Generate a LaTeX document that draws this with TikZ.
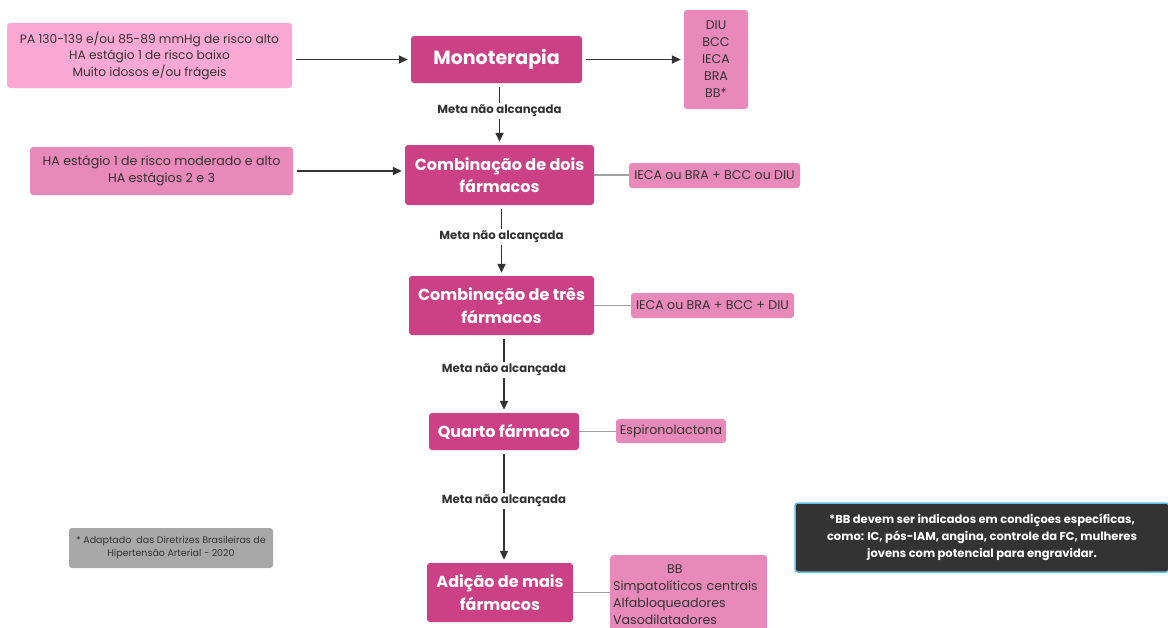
\documentclass[tikz,border=0pt]{standalone}
\usepackage{fontspec}
\setmainfont{Poppins}
\usetikzlibrary{arrows.meta}

\definecolor{mainpink}{HTML}{CC4185}
\definecolor{lightpink}{HTML}{FCA8D4}
\definecolor{midpink}{HTML}{E989B9}
\definecolor{arrowgray}{HTML}{333333}
\definecolor{linkgray}{HTML}{A0A0A0}
\definecolor{notegray}{HTML}{A8A8A8}
\definecolor{notedark}{HTML}{333333}
\definecolor{noteblue}{HTML}{5DC1EE}

\newcommand*{\picw}{1168}
\newcommand*{\pich}{627}

\begin{document}
\begin{tikzpicture}
[
	x=1pt, y=-1pt,
	mainbox/.style={fill=mainpink,rounded corners=3pt,text=white,align=center,inner sep=0pt,
		font=\bfseries\fontsize{16}{22.5}\selectfont},
	sidebox/.style={fill=midpink,rounded corners=3pt,text=arrowgray,align=center,inner sep=0pt,
		font=\fontsize{12.6}{17}\selectfont},
	startbox/.style={sidebox,fill=lightpink,font=\fontsize{12.2}{16.5}\selectfont},
	metalabel/.style={fill=white,text=arrowgray,inner sep=2pt,font=\bfseries\fontsize{11.7}{14}\selectfont},
	goal/.style={draw=arrowgray,line width=1.6pt,-{Triangle[length=9pt,width=8pt]},
		shorten <=4pt,shorten >=3pt},
	link/.style={draw=linkgray,line width=1.3pt}
]

	\useasboundingbox (0,0) rectangle (\picw,\pich);

	% main steps
	\node[mainbox,minimum width=171,minimum height=47,font=\bfseries\fontsize{19}{22}\selectfont]
		(mono) at (496.5,59.5) {Monoterapia};
	\node[mainbox,minimum width=189,minimum height=60] (combo2) at (499.5,175) {Combinação de dois\\fármacos};
	\node[mainbox,minimum width=185,minimum height=59] (combo3) at (501.5,305.5) {Combinação de três\\fármacos};
	\node[mainbox,minimum width=150,minimum height=37] (quarto) at (504,431.5) {Quarto fármaco};
	\node[mainbox,minimum width=146,minimum height=59] (adicao) at (500,592.5) {Adição de mais\\fármacos};

	% who starts where
	\node[startbox,minimum width=285,minimum height=65] (risco) at (149.5,55.5)
		{PA 130-139 e/ou 85-89 mmHg de risco alto\\HA estágio 1 de risco baixo\\Muito idosos e/ou frágeis};
	\node[sidebox,minimum width=263,minimum height=48] (estagio) at (161.5,171)
		{HA estágio 1 de risco moderado e alto\\HA estágios 2 e 3};

	% drugs
	\node[sidebox,minimum width=64,minimum height=99] (classes) at (716,59.5) {DIU\\BCC\\IECA\\BRA\\BB*};
	\node[sidebox,minimum width=171,minimum height=25] (duas) at (714.5,175.5) {IECA ou BRA + BCC ou DIU};
	\node[sidebox,minimum width=163,minimum height=25] (tres) at (712.5,305.5) {IECA ou BRA + BCC + DIU};
	\node[sidebox,minimum width=110,minimum height=24] (espiro) at (671,431) {Espironolactona};
	\node[sidebox,anchor=north west,align=left,inner sep=3pt,text width=151,minimum height=78] (outros) at (610,555)
		{\hspace*{54pt}BB\\Simpatolíticos centrais\\Alfabloqueadores\\Vasodilatadores};

	% arrows
	\draw[goal] (risco.east |- mono.west) -- (mono.west);
	\draw[goal] (mono.east) -- (classes.west |- mono.east);
	\draw[goal] (estagio.east) -- (estagio.east -| combo2.west);

	\draw[goal] (mono.south -| combo2.north) -- node[metalabel,pos=0.45] {Meta não alcançada} (combo2.north);
	\draw[goal] (combo2.south -| combo3.north) -- node[metalabel,pos=0.45] {Meta não alcançada} (combo3.north);
	\draw[goal] (combo3.south -| quarto.north) -- node[metalabel,pos=0.45] {Meta não alcançada} (quarto.north);
	\draw[goal] (quarto.south) -- node[metalabel,pos=0.45] {Meta não alcançada} (quarto.south |- adicao.north);

	\draw[link] (combo2.east) -- (duas.west |- combo2.east);
	\draw[link] (combo3.east) -- (tres.west |- combo3.east);
	\draw[link] (quarto.east) -- (espiro.west |- quarto.east);
	\draw[link] (adicao.east) -- (adicao.east -| outros.west);

	% notes
	\node[fill=notegray,rounded corners=3pt,align=center,text=arrowgray,inner sep=0pt,
		minimum width=204,minimum height=40,font=\fontsize{9.5}{13}\selectfont] (fonte) at (171,548)
		{* Adaptado\ \ das Diretrizes Brasileiras de\\Hipertensão Arterial - 2020};
	\node[fill=notedark,draw=noteblue,line width=1.5pt,rounded corners=3pt,align=center,text=white,inner sep=0pt,
		minimum width=374,minimum height=69,font=\bfseries\fontsize{11.5}{17}\selectfont] (aviso) at (982,537.5)
		{*BB devem ser indicados em condiçoes específicas,\\como: IC, pós-IAM, angina, controle da FC, mulheres\\jovens com potencial para engravidar.};

\end{tikzpicture}
\end{document}
